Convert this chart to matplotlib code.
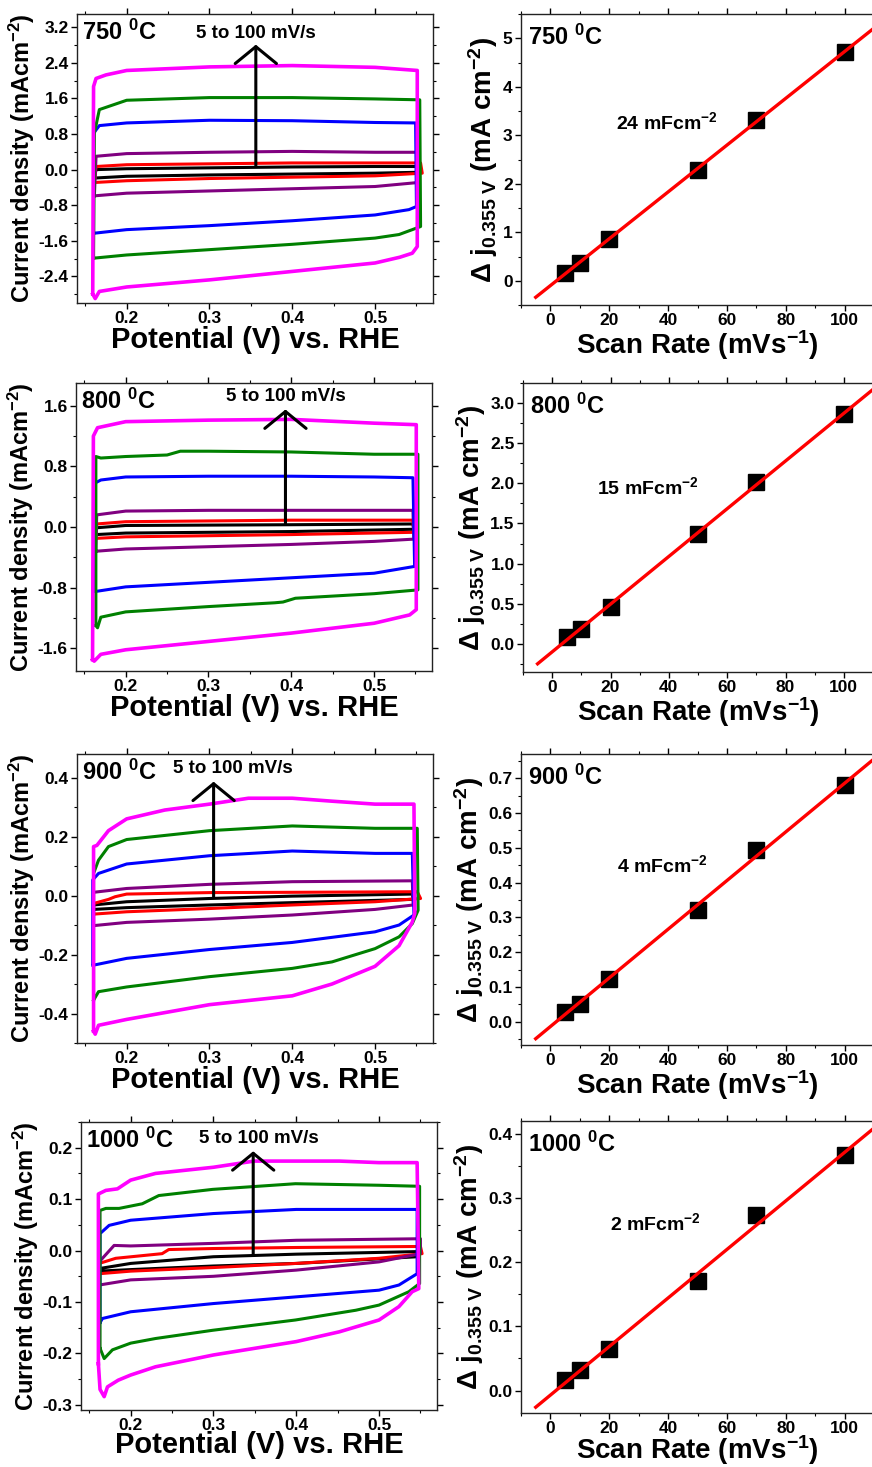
import numpy as np
import matplotlib
matplotlib.use('Agg')
import matplotlib.pyplot as plt
from matplotlib.ticker import MultipleLocator, FormatStrFormatter

plt.rcParams['font.family'] = ['Liberation Sans', 'DejaVu Sans']
plt.rcParams['font.weight'] = 'bold'
plt.rcParams['axes.unicode_minus'] = False
plt.rcParams['mathtext.fontset'] = 'custom'
plt.rcParams['mathtext.rm'] = 'Liberation Sans:bold'
plt.rcParams['mathtext.bf'] = 'Liberation Sans:bold'
plt.rcParams['mathtext.it'] = 'Liberation Sans:bold'
plt.rcParams['mathtext.sf'] = 'Liberation Sans:bold'
plt.rcParams['mathtext.default'] = 'rm'

temps = ['750', '800', '900', '1000']
caps = ['24', '15', '4', '2']
colors = {'k': 'black', 'r': '#ff0000', 'p': '#800080', 'b': '#0000ff', 'g': '#008000', 'm': '#ff00ff'}

# scan rate vs delta j (right column)
rates = [5, 10, 20, 50, 70, 100]
dj750 = [0.16, 0.36, 0.87, 2.29, 3.32, 4.71]
dj800 = [0.083, 0.19, 0.46, 1.37, 2.02, 2.86]
dj900 = [0.029, 0.051, 0.124, 0.322, 0.495, 0.68]
dj1000 = [0.016, 0.032, 0.064, 0.17, 0.273, 0.367]

# ---- CV loops, 750 C ----
E750_k = [0.161, 0.163, 0.2, 0.3, 0.4, 0.5, 0.551, 0.552, 0.5, 0.4, 0.3, 0.2, 0.161]
j750_k = [-0.19, 0.0, 0.02, 0.04, 0.06, 0.07, 0.07, -0.06, -0.08, -0.10, -0.12, -0.15, -0.19]
E750_r = [0.161, 0.163, 0.2, 0.3, 0.4, 0.5, 0.555, 0.557, 0.5, 0.4, 0.3, 0.2, 0.161]
j750_r = [-0.29, 0.07, 0.11, 0.13, 0.15, 0.15, 0.15, -0.08, -0.14, -0.17, -0.20, -0.25, -0.29]
E750_p = [0.161, 0.163, 0.2, 0.3, 0.4, 0.5, 0.551, 0.552, 0.5, 0.4, 0.3, 0.2, 0.161]
j750_p = [-0.59, 0.30, 0.36, 0.39, 0.41, 0.39, 0.39, -0.29, -0.38, -0.43, -0.48, -0.53, -0.59]
E750_b = [0.160, 0.160, 0.167, 0.2, 0.3, 0.4, 0.5, 0.549, 0.550, 0.541, 0.5, 0.4, 0.3, 0.2, 0.161]
j750_b = [-1.43, 0.82, 0.99, 1.05, 1.11, 1.10, 1.06, 1.05, -0.83, -0.90, -1.02, -1.15, -1.26, -1.35, -1.43]
E750_g = [0.160, 0.161, 0.167, 0.2, 0.3, 0.4, 0.5, 0.554, 0.555, 0.545, 0.529, 0.5, 0.4, 0.3, 0.2, 0.161]
j750_g = [-1.99, 0.82, 1.35, 1.56, 1.62, 1.62, 1.59, 1.57, -1.28, -1.35, -1.46, -1.54, -1.68, -1.80, -1.92, -1.99]
E750_m = [0.159, 0.160, 0.163, 0.175, 0.2, 0.3, 0.4, 0.5, 0.551, 0.551, 0.545, 0.53, 0.5, 0.4, 0.3, 0.2, 0.167, 0.162, 0.159]
j750_m = [-2.80, 1.87, 2.05, 2.13, 2.23, 2.31, 2.34, 2.30, 2.23, -1.73, -1.88, -1.97, -2.10, -2.29, -2.48, -2.64, -2.74, -2.90, -2.80]

# ---- CV loops, 800 C ----
E800_k = [0.164, 0.165, 0.2, 0.4, 0.547, 0.548, 0.4, 0.2, 0.164]
j800_k = [-0.10, -0.01, 0.02, 0.03, 0.04, -0.03, -0.06, -0.08, -0.10]
E800_r = [0.164, 0.165, 0.2, 0.4, 0.547, 0.548, 0.4, 0.2, 0.164]
j800_r = [-0.15, 0.04, 0.07, 0.09, 0.09, -0.07, -0.10, -0.13, -0.15]
E800_p = [0.164, 0.165, 0.2, 0.3, 0.4, 0.547, 0.548, 0.5, 0.4, 0.3, 0.2, 0.164]
j800_p = [-0.32, 0.16, 0.21, 0.22, 0.22, 0.22, -0.16, -0.19, -0.23, -0.26, -0.29, -0.32]
E800_b = [0.163, 0.163, 0.17, 0.2, 0.3, 0.4, 0.5, 0.547, 0.549, 0.5, 0.4, 0.3, 0.2, 0.164]
j800_b = [-0.85, 0.58, 0.62, 0.66, 0.67, 0.67, 0.66, 0.65, -0.52, -0.61, -0.67, -0.73, -0.79, -0.85]
E800_g = [0.164, 0.164, 0.17, 0.2, 0.25, 0.266, 0.3, 0.4, 0.5, 0.553, 0.553, 0.5, 0.405, 0.39, 0.38, 0.3, 0.2, 0.17, 0.166, 0.164]
j800_g = [-1.30, 0.93, 0.91, 0.93, 0.95, 1.0, 1.0, 0.99, 0.96, 0.96, -0.83, -0.88, -0.94, -0.99, -1.0, -1.05, -1.12, -1.19, -1.33, -1.30]
E800_m = [0.160, 0.161, 0.166, 0.2, 0.3, 0.4, 0.5, 0.551, 0.551, 0.543, 0.5, 0.4, 0.3, 0.2, 0.17, 0.162, 0.160]
j800_m = [-1.75, 1.20, 1.31, 1.39, 1.41, 1.42, 1.37, 1.35, -1.09, -1.16, -1.27, -1.40, -1.51, -1.62, -1.68, -1.77, -1.75]

# ---- CV loops, 900 C ----
E900_k = [0.160, 0.160, 0.2, 0.3, 0.4, 0.545, 0.546, 0.4, 0.3, 0.2, 0.160]
j900_k = [-0.047, -0.032, -0.021, -0.01, -0.002, 0.005, -0.013, -0.024, -0.032, -0.041, -0.047]
E900_r = [0.160, 0.160, 0.178, 0.186, 0.2, 0.3, 0.4, 0.551, 0.555, 0.5, 0.4, 0.3, 0.2, 0.160]
j900_r = [-0.063, -0.027, -0.013, -0.004, 0.005, 0.01, 0.011, 0.013, -0.01, -0.021, -0.032, -0.044, -0.055, -0.063]
E900_p = [0.160, 0.160, 0.2, 0.3, 0.4, 0.545, 0.546, 0.5, 0.4, 0.3, 0.2, 0.160]
j900_p = [-0.102, 0.011, 0.024, 0.038, 0.047, 0.05, -0.032, -0.047, -0.066, -0.08, -0.091, -0.102]
E900_b = [0.159, 0.159, 0.166, 0.2, 0.3, 0.4, 0.5, 0.545, 0.547, 0.529, 0.5, 0.4, 0.3, 0.2, 0.160]
j900_b = [-0.236, 0.053, 0.075, 0.107, 0.135, 0.151, 0.143, 0.143, -0.066, -0.10, -0.123, -0.159, -0.183, -0.213, -0.236]
E900_g = [0.160, 0.160, 0.166, 0.178, 0.2, 0.3, 0.4, 0.5, 0.551, 0.552, 0.545, 0.529, 0.5, 0.448, 0.4, 0.3, 0.2, 0.166, 0.160]
j900_g = [-0.355, 0.075, 0.12, 0.166, 0.19, 0.22, 0.236, 0.228, 0.228, -0.05, -0.095, -0.14, -0.18, -0.225, -0.247, -0.275, -0.31, -0.326, -0.355]
E900_m = [0.160, 0.160, 0.164, 0.178, 0.2, 0.246, 0.3, 0.347, 0.4, 0.448, 0.5, 0.547, 0.548, 0.545, 0.529, 0.5, 0.448, 0.4, 0.3, 0.2, 0.166, 0.162, 0.160]
j900_m = [-0.46, 0.166, 0.17, 0.22, 0.26, 0.29, 0.31, 0.33, 0.33, 0.32, 0.31, 0.31, -0.06, -0.09, -0.17, -0.24, -0.30, -0.34, -0.37, -0.42, -0.44, -0.47, -0.46]

# ---- CV loops, 1000 C ----
E1000_k = [0.162, 0.162, 0.2, 0.3, 0.4, 0.546, 0.546, 0.4, 0.3, 0.2, 0.162]
j1000_k = [-0.04, -0.035, -0.025, -0.012, -0.007, -0.002, -0.012, -0.025, -0.03, -0.037, -0.04]
E1000_r = [0.162, 0.162, 0.182, 0.238, 0.246, 0.3, 0.4, 0.55, 0.552, 0.5, 0.4, 0.3, 0.2, 0.162]
j1000_r = [-0.045, -0.025, -0.015, -0.006, 0.002, 0.004, 0.006, 0.008, -0.006, -0.015, -0.025, -0.033, -0.04, -0.045]
E1000_p = [0.162, 0.162, 0.18, 0.2, 0.3, 0.4, 0.55, 0.55, 0.5, 0.4, 0.3, 0.2, 0.162]
j1000_p = [-0.067, -0.022, 0.01, 0.009, 0.014, 0.02, 0.023, -0.006, -0.022, -0.038, -0.05, -0.057, -0.067]
E1000_b = [0.163, 0.163, 0.174, 0.2, 0.3, 0.4, 0.546, 0.546, 0.524, 0.5, 0.4, 0.3, 0.2, 0.166, 0.163]
j1000_b = [-0.14, 0.033, 0.049, 0.059, 0.072, 0.08, 0.08, -0.045, -0.067, -0.077, -0.09, -0.103, -0.119, -0.132, -0.14]
E1000_g = [0.163, 0.163, 0.17, 0.186, 0.214, 0.234, 0.299, 0.399, 0.5, 0.549, 0.549, 0.536, 0.5, 0.472, 0.399, 0.299, 0.23, 0.2, 0.178, 0.168, 0.163]
j1000_g = [-0.19, 0.078, 0.082, 0.082, 0.091, 0.107, 0.119, 0.13, 0.127, 0.125, -0.064, -0.08, -0.106, -0.116, -0.135, -0.155, -0.171, -0.18, -0.193, -0.21, -0.19]
E1000_m = [0.161, 0.161, 0.17, 0.184, 0.2, 0.23, 0.3, 0.349, 0.4, 0.452, 0.5, 0.546, 0.548, 0.54, 0.524, 0.5, 0.452, 0.4, 0.3, 0.23, 0.2, 0.185, 0.172, 0.168, 0.163, 0.161]
j1000_m = [-0.22, 0.11, 0.117, 0.12, 0.137, 0.15, 0.162, 0.174, 0.174, 0.174, 0.171, 0.171, -0.074, -0.08, -0.109, -0.135, -0.158, -0.177, -0.203, -0.226, -0.242, -0.252, -0.265, -0.284, -0.27, -0.22]

cv = [
    [(E750_k, j750_k, 'k'), (E750_r, j750_r, 'r'), (E750_p, j750_p, 'p'),
     (E750_b, j750_b, 'b'), (E750_g, j750_g, 'g'), (E750_m, j750_m, 'm')],
    [(E800_k, j800_k, 'k'), (E800_r, j800_r, 'r'), (E800_p, j800_p, 'p'),
     (E800_b, j800_b, 'b'), (E800_g, j800_g, 'g'), (E800_m, j800_m, 'm')],
    [(E900_k, j900_k, 'k'), (E900_r, j900_r, 'r'), (E900_p, j900_p, 'p'),
     (E900_b, j900_b, 'b'), (E900_g, j900_g, 'g'), (E900_m, j900_m, 'm')],
    [(E1000_k, j1000_k, 'k'), (E1000_r, j1000_r, 'r'), (E1000_p, j1000_p, 'p'),
     (E1000_b, j1000_b, 'b'), (E1000_g, j1000_g, 'g'), (E1000_m, j1000_m, 'm')],
]
dj = [dj750, dj800, dj900, dj1000]

# axis ranges and ticks
cv_ylim = [(-3.0, 3.5), (-1.9, 1.9), (-0.5, 0.48), (-0.31, 0.25)]
cv_ystep = [0.8, 0.8, 0.2, 0.1]
fit_ylim = [(-0.5, 5.5), (-0.35, 3.25), (-0.067, 0.77), (-0.035, 0.42)]
fit_ystep = [1, 0.5, 0.1, 0.1]
fit_yfmt = ['%d', '%.1f', '%.1f', '%.1f']

# arrow (x, y0, y1) and label position
arrows = [(0.356, 0.09, 2.81), (0.393, 0.04, 1.55), (0.305, -0.004, 0.386), (0.348, -0.007, 0.193)]
arrow_txt = [(0.356, 3.07), (0.393, 1.72), (0.328, 0.43), (0.355, 0.218)]
cap_pos = [(0.414, 0.629), (0.357, 0.64), (0.40, 0.619), (0.38, 0.65)]

# axes boxes in pixels: left, top, right, bottom
W, H = 872, 1467
left_box = [(77, 14, 433, 303), (76, 383, 432, 671), (77, 754, 433, 1043), (81, 1122, 437, 1410)]
right_box = [(521, 14, 874, 305), (523, 383, 873, 672), (521, 754, 874, 1045), (521, 1121, 874, 1413)]


def box(b):
    l, t, r, bt = b
    return [l / W, 1 - bt / H, (r - l) / W, (bt - t) / H]


def style(ax):
    for s in ax.spines.values():
        s.set_linewidth(1.0)
        s.set_color('#222222')
    ax.tick_params(which='major', direction='out', length=4, width=1, labelsize=12.5, pad=2)
    ax.tick_params(which='minor', direction='out', length=2.5, width=0.8)
    ax.tick_params(which='both', top=True, right=True, labeltop=False, labelright=False)
    for lab in ax.get_xticklabels() + ax.get_yticklabels():
        lab.set_fontweight('bold')


fig = plt.figure(figsize=(W / 100, H / 100), dpi=100)

for i in range(4):
    xpad = -2 if i == 3 else 0
    # CV panel
    ax = fig.add_axes(box(left_box[i]))
    for E, j, c in cv[i]:
        lw = 2.6 if c == 'm' else 2.2
        ax.plot(E, j, color=colors[c], lw=lw, solid_joinstyle='round')
    ax.set_xlim(0.14, 0.57)
    ax.set_ylim(*cv_ylim[i])
    ax.xaxis.set_major_locator(MultipleLocator(0.1))
    ax.xaxis.set_minor_locator(MultipleLocator(0.05))
    ax.yaxis.set_major_locator(MultipleLocator(cv_ystep[i]))
    ax.yaxis.set_minor_locator(MultipleLocator(cv_ystep[i] / 2))
    ax.xaxis.set_major_formatter(FormatStrFormatter('%.1f'))
    ax.yaxis.set_major_formatter(FormatStrFormatter('%.1f'))
    style(ax)
    ax.set_xlabel('Potential (V) vs. RHE', fontsize=21, fontweight='bold', labelpad=xpad)
    ax.set_ylabel('Current density (mAcm$^{-2}$)', fontsize=17, fontweight='bold', labelpad=1)
    ax.text(0.015, 0.935, temps[i] + ' $^{0}$C', transform=ax.transAxes, fontsize=17,
            fontweight='bold', va='center', ha='left')
    xa, y0, y1 = arrows[i]
    ax.annotate('', xy=(xa, y1), xytext=(xa, y0),
                arrowprops=dict(arrowstyle='->,head_length=0.45,head_width=0.55',
                                lw=2.2, color='black', mutation_scale=27,
                                shrinkA=0, shrinkB=0))
    tx, ty = arrow_txt[i]
    ax.text(tx, ty, '5 to 100 mV/s', fontsize=13.5, fontweight='bold', ha='center', va='center')

    # scan rate panel
    ax2 = fig.add_axes(box(right_box[i]))
    k, b0 = np.polyfit(rates, dj[i], 1)
    xs = np.array([-5, 112])
    ax2.plot(xs, k * xs + b0, color='#ff0000', lw=2.4, zorder=3)
    ax2.plot(rates, dj[i], 's', color='black', ms=11, zorder=2)
    ax2.set_xlim(-10, 110)
    ax2.set_ylim(*fit_ylim[i])
    ax2.xaxis.set_major_locator(MultipleLocator(20))
    ax2.xaxis.set_minor_locator(MultipleLocator(10))
    ax2.yaxis.set_major_locator(MultipleLocator(fit_ystep[i]))
    ax2.yaxis.set_minor_locator(MultipleLocator(fit_ystep[i] / 2))
    ax2.yaxis.set_major_formatter(FormatStrFormatter(fit_yfmt[i]))
    style(ax2)
    ax2.set_xlabel('Scan Rate (mVs$^{-1}$)', fontsize=20, fontweight='bold', labelpad=xpad)
    ax2.set_ylabel('\u0394 j$_{0.355\\ V}$ (mA cm$^{-2}$)', fontsize=20, fontweight='bold', labelpad=2)
    ax2.text(0.02, 0.92, temps[i] + ' $^{0}$C', transform=ax2.transAxes, fontsize=17,
             fontweight='bold', va='center', ha='left')
    cx, cy = cap_pos[i]
    ax2.text(cx, cy, caps[i] + ' mFcm$^{-2}$', transform=ax2.transAxes, fontsize=14,
             fontweight='bold', va='center', ha='center')

fig.savefig('out.png', dpi=100)
